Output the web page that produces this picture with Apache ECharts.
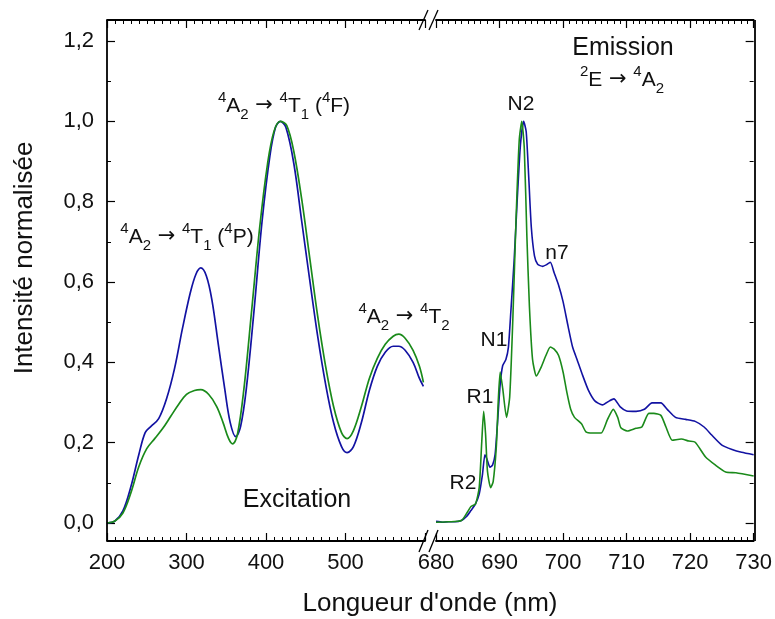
<!DOCTYPE html>
<html>
<head>
<meta charset="utf-8">
<script src="https://cdn.jsdelivr.net/npm/echarts@6/dist/echarts.min.js"></script>
<style>
html,body{margin:0;padding:0;background:#fff;}
#chart{width:775px;height:619px;}
</style>
</head>
<body>
<div id="chart"></div>
<script>
// ---- data ----
const exBlueNm  = [200,210,220,230,240,248,255,265,275,285,295,305,312,318,325,332,340,348,355,362,368,375,385,395,405,412,418,425,435,445,455,465,475,485,495,502,510,520,530,540,550,560,567,575,585,593,598];
const exBlueVal = [0.00,0.005,0.03,0.09,0.17,0.225,0.24,0.26,0.31,0.385,0.485,0.575,0.62,0.635,0.615,0.555,0.445,0.335,0.25,0.215,0.24,0.33,0.53,0.75,0.915,0.985,1.0,0.985,0.895,0.75,0.605,0.465,0.345,0.25,0.19,0.175,0.19,0.25,0.33,0.39,0.425,0.44,0.44,0.43,0.40,0.36,0.34];
const exGreenNm  = [200,210,220,230,240,250,260,270,280,290,300,310,318,328,338,346,353,358,364,372,382,392,402,410,418,426,435,445,455,465,475,485,495,502,510,520,530,540,550,560,567,575,585,593,598];
const exGreenVal = [0.00,0.005,0.025,0.075,0.14,0.185,0.21,0.235,0.265,0.295,0.32,0.33,0.332,0.32,0.29,0.25,0.21,0.197,0.22,0.33,0.53,0.735,0.895,0.975,1.0,0.99,0.925,0.805,0.66,0.515,0.39,0.29,0.225,0.21,0.23,0.29,0.36,0.41,0.445,0.465,0.47,0.46,0.43,0.39,0.35];

const emBlueNm  = [680,681,682,683,684,684.8,685.5,686.2,686.8,687.3,687.7,688.0,688.5,688.9,689.3,689.7,690.1,690.5,691.0,691.4,691.8,692.3,692.8,693.3,693.8,694.2,694.6,695.0,695.5,696.0,696.8,697.5,698.0,698.6,699.3,700.0,700.8,701.5,702.2,703.0,704.0,705.0,706.2,707.3,708.0,709.0,710.0,711.5,712.8,714.0,715.4,716.4,717.7,719.3,720.8,722.2,723.4,725.0,726.6,728.1,730];
const emBlueVal = [0.004,0.002,0.003,0.003,0.006,0.016,0.031,0.047,0.072,0.119,0.17,0.16,0.139,0.144,0.17,0.253,0.345,0.392,0.407,0.438,0.531,0.654,0.809,0.943,1.0,0.974,0.86,0.737,0.665,0.644,0.639,0.644,0.649,0.623,0.592,0.551,0.489,0.438,0.407,0.371,0.33,0.304,0.294,0.304,0.309,0.289,0.279,0.278,0.283,0.299,0.299,0.283,0.263,0.258,0.253,0.239,0.219,0.194,0.183,0.176,0.17];
const emGreenNm  = [680,682,684,684.9,685.5,686.2,686.8,687.2,687.5,687.8,688.1,688.6,689.0,689.5,689.8,690.1,690.5,691.1,691.6,692.1,692.6,693.1,693.5,693.9,694.3,694.7,695.2,695.8,696.5,697.3,698.0,698.6,699.3,700.0,700.6,701.2,701.8,702.9,703.6,704.6,706.0,707.0,707.9,708.6,709.1,710.1,711.5,712.4,713.5,714.3,715.4,716.2,717.2,718.6,719.8,720.8,722.4,724.0,725.6,727.2,730];
const emGreenVal = [0.002,0.003,0.006,0.026,0.041,0.047,0.088,0.201,0.278,0.222,0.129,0.088,0.103,0.191,0.304,0.376,0.335,0.263,0.314,0.51,0.757,0.953,1.0,0.932,0.716,0.541,0.407,0.366,0.386,0.417,0.438,0.433,0.417,0.376,0.325,0.283,0.263,0.247,0.227,0.224,0.224,0.258,0.283,0.263,0.237,0.229,0.236,0.239,0.273,0.273,0.268,0.239,0.206,0.209,0.204,0.201,0.165,0.144,0.127,0.125,0.117];

const xTickLabelsLeft  = [200,300,400,500];
const xTickLabelsRight = [680,690,700,710,720,730];
const yTickLabels = [0,0.2,0.4,0.6,0.8,1.0,1.2];

// ---- styling ----
const FONT = '"Liberation Sans", Arial, sans-serif';
const BLUE = '#1212a2';
const GREEN = '#1a8a1a';
const G0 = {left:107, top:41, width:318, height:482};
const G1 = {left:436, top:41, width:319, height:482};
const BOTTOM_LINE = 541, TOP_LINE = 20;

function pairs(xs, ys){ return xs.map((x,i)=>[x, ys[i]]); }

const tickStyle = {show:true, inside:true, length:8, lineStyle:{color:'#000', width:1.2}};
const minorStyle = {length:4, lineStyle:{color:'#000', width:1}};

function xAxisDef(gi, pos, min, max, labels, showLabels){
  return {
    type:'value', gridIndex:gi, position:pos, min:min, max:max, interval:(max-min>100?100:10),
    offset: pos==='bottom' ? (BOTTOM_LINE - (G0.top+G0.height)) : (G0.top - TOP_LINE),
    axisLine:{show:true, onZero:false, lineStyle:{color:'#000', width:1.8}},
    axisTick:tickStyle,
    minorTick:{show:true, splitNumber:10, length:minorStyle.length, lineStyle:minorStyle.lineStyle},
    splitLine:{show:false},
    axisLabel:{show:showLabels, margin:11, fontSize:22, fontFamily:FONT, color:'#111',
      formatter:function(v){ return labels.indexOf(v)>=0 ? String(v) : ''; }}
  };
}
function yAxisDef(gi, pos, showLabels){
  return {
    type:'value', gridIndex:gi, position:pos, min:0, max:1.2, interval:0.2,
    axisLine:{show:false, onZero:false},
    axisTick:tickStyle,
    minorTick:{show:true, splitNumber:2, length:minorStyle.length, lineStyle:minorStyle.lineStyle},
    splitLine:{show:false},
    axisLabel:{show:showLabels, margin:13, fontSize:22, fontFamily:FONT, color:'#111',
      formatter:function(v){
        const ok = yTickLabels.some(t=>Math.abs(t-v)<1e-6);
        return ok ? v.toFixed(1).replace('.', ',') : '';
      }}
  };
}

const richDef = {
  b:{fontSize:21, lineHeight:32, fontFamily:FONT, fill:'#111'},
  ar:{fontSize:21, lineHeight:32, fontFamily:'"DejaVu Sans", sans-serif', fill:'#111'},
  sp:{fontSize:15, lineHeight:15, fontFamily:FONT, fill:'#111', verticalAlign:'top'},
  sb:{fontSize:15, lineHeight:15, fontFamily:FONT, fill:'#111', verticalAlign:'bottom'}
};
function richText(x, y, str){
  return {type:'text', x:x, y:y, z:50, style:{text:str, rich:richDef, align:'center', verticalAlign:'middle', textAlign:'center', textVerticalAlign:'middle', fontSize:21, fontFamily:FONT, fill:'#111'}};
}
function plainText(x, y, str, size, rot){
  return {type:'text', x:x, y:y, z:50, rotation:rot||0, style:{text:str, fontSize:size, fontFamily:FONT, fill:'#111', align:'center', verticalAlign:'middle', textAlign:'center', textVerticalAlign:'middle'}};
}
function seg(x1,y1,x2,y2,w){
  return {type:'line', z:60, shape:{x1:x1,y1:y1,x2:x2,y2:y2}, style:{stroke:'#000', lineWidth:w||1.3}};
}

const chart = echarts.init(document.getElementById('chart'), null, {renderer:'canvas'});
chart.setOption({
  animation:false,
  backgroundColor:'#fff',
  grid:[
    Object.assign({containLabel:false}, G0),
    Object.assign({containLabel:false}, G1)
  ],
  xAxis:[
    xAxisDef(0,'bottom',200,600,xTickLabelsLeft,true),
    xAxisDef(1,'bottom',680,730,xTickLabelsRight,true),
    xAxisDef(0,'top',200,600,xTickLabelsLeft,false),
    xAxisDef(1,'top',680,730,xTickLabelsRight,false)
  ],
  yAxis:[
    yAxisDef(0,'left',true),
    yAxisDef(1,'right',false)
  ],
  series:[
    {type:'line', xAxisIndex:0, yAxisIndex:0, data:pairs(exBlueNm, exBlueVal), showSymbol:false, smooth:0.35, lineStyle:{color:BLUE, width:1.7}, itemStyle:{color:BLUE}},
    {type:'line', xAxisIndex:0, yAxisIndex:0, data:pairs(exGreenNm, exGreenVal), showSymbol:false, smooth:0.35, lineStyle:{color:GREEN, width:1.7}, itemStyle:{color:GREEN}},
    {type:'line', xAxisIndex:1, yAxisIndex:1, data:pairs(emBlueNm, emBlueVal), showSymbol:false, smooth:0.2, lineStyle:{color:BLUE, width:1.6}, itemStyle:{color:BLUE}},
    {type:'line', xAxisIndex:1, yAxisIndex:1, data:pairs(emGreenNm, emGreenVal), showSymbol:false, smooth:0.2, lineStyle:{color:GREEN, width:1.6}, itemStyle:{color:GREEN}}
  ],
  graphic:[
    seg(G0.left, TOP_LINE, G0.left, BOTTOM_LINE, 1.8),
    seg(G1.left+G1.width, TOP_LINE, G1.left+G1.width, BOTTOM_LINE, 1.8),
    seg(419, BOTTOM_LINE+11, 428, BOTTOM_LINE-11),
    seg(429, BOTTOM_LINE+11, 438, BOTTOM_LINE-11),
    seg(419, TOP_LINE+10, 428, TOP_LINE-10),
    seg(429, TOP_LINE+10, 438, TOP_LINE-10),
    plainText(430, 604, "Longueur d'onde (nm)", 26),
    plainText(25, 258, 'Intensité normalisée', 26, Math.PI/2),
    richText(187, 237, '{sp|4}{b|A}{sb|2}{ar| → }{sp|4}{b|T}{sb|1}{b| (}{sp|4}{b|P)}'),
    richText(284, 106, '{sp|4}{b|A}{sb|2}{ar| → }{sp|4}{b|T}{sb|1}{b| (}{sp|4}{b|F)}'),
    richText(404, 317, '{sp|4}{b|A}{sb|2}{ar| → }{sp|4}{b|T}{sb|2}'),
    plainText(623, 48, 'Emission', 25),
    richText(622, 80, '{sp|2}{b|E}{ar| → }{sp|4}{b|A}{sb|2}'),
    plainText(297, 500, 'Excitation', 25),
    plainText(521, 104, 'N2', 21),
    plainText(557, 253, 'n7', 21),
    plainText(494, 340, 'N1', 21),
    plainText(480, 397, 'R1', 21),
    plainText(463, 483, 'R2', 21)
  ]
});
</script>
</body>
</html>
